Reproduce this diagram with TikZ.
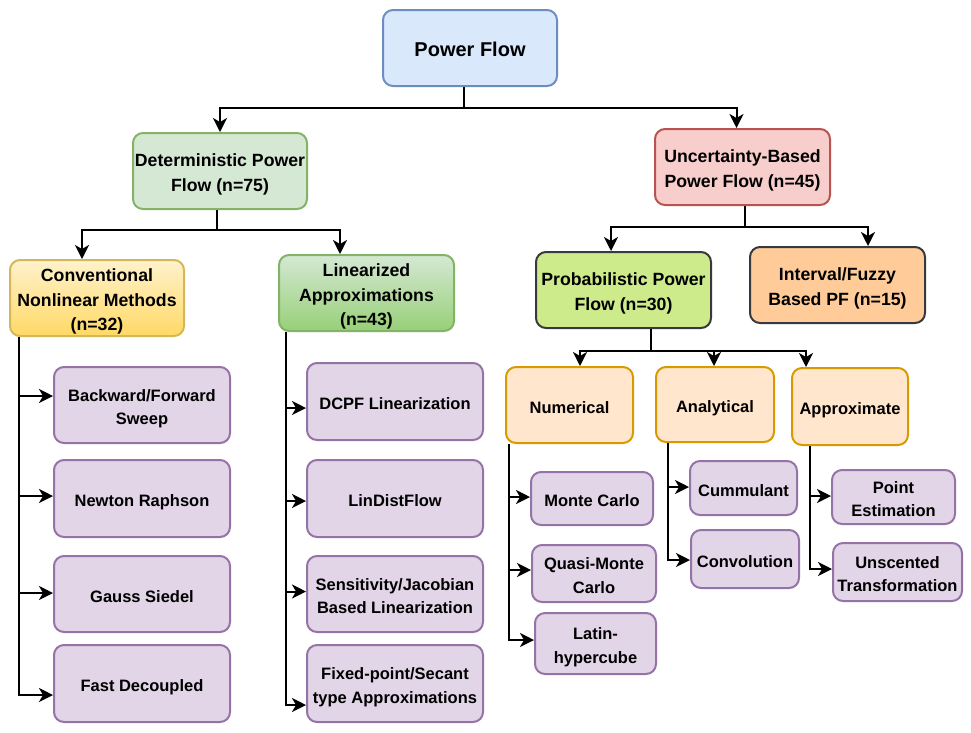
\documentclass[tikz,border=0pt]{standalone}
\usepackage{fontspec}
\setmainfont{Liberation Sans}
\usetikzlibrary{arrows.meta}
\definecolor{pfF}{HTML}{DAE8FC}\definecolor{pfD}{HTML}{6C8EBF}
\definecolor{detF}{HTML}{D5E8D4}\definecolor{detD}{HTML}{82B366}
\definecolor{uncF}{HTML}{F8CECC}\definecolor{uncD}{HTML}{B85450}
\definecolor{convT}{HTML}{FFF2CC}\definecolor{convB}{HTML}{FFD966}\definecolor{convD}{HTML}{D6B656}
\definecolor{linB}{HTML}{97D077}
\definecolor{probF}{HTML}{CDEB8B}\definecolor{darkD}{HTML}{36393D}
\definecolor{intF}{HTML}{FFCC99}
\definecolor{subF}{HTML}{FFE6CC}\definecolor{subD}{HTML}{D79B00}
\definecolor{leafF}{HTML}{E1D5E7}\definecolor{leafD}{HTML}{9673A6}
\newcommand\mytop{\rule{0pt}{20pt}}
\tikzset{
  base/.style={rounded corners=10pt, line width=2pt, align=center, inner sep=0pt, text=black,
    execute at end node={\rule[-4pt]{0pt}{4pt}}},
  catbox/.style={base, font=\bfseries\fontsize{17.7}{24.8}\selectfont, minimum width=174pt, minimum height=76pt},
  leafbox/.style={base, fill=leafF, draw=leafD, font=\bfseries\fontsize{16.5}{23.1}\selectfont},
  subbox/.style={base, fill=subF, draw=subD, font=\bfseries\fontsize{16.5}{23.1}\selectfont},
  arr/.style={line width=2pt, -{Stealth[length=14pt,width=14pt,inset=4pt]}},
}
\begin{document}
\begin{tikzpicture}[x=1pt,y=-1pt]
\useasboundingbox (0,0) rectangle (971,732);
% level 0
\node[base, fill=pfF, draw=pfD, minimum width=174pt, minimum height=76pt, font=\bfseries\fontsize{20}{24}\selectfont] (pf) at (470,48) {\mytop Power Flow};
% level 1
\node[catbox, fill=detF, draw=detD] (det) at (220,171) {\mytop Deterministic Power\\Flow (n=75)};
\node[catbox, fill=uncF, draw=uncD, minimum width=175pt] (unc) at (742.5,167) {\mytop Uncertainty-Based\\Power Flow (n=45)};
% level 2
\node[catbox, top color=convT, bottom color=convB, draw=convD] (conv) at (97,298) {\mytop Conventional\\Nonlinear Methods\\(n=32)};
\node[catbox, top color=detF, bottom color=linB, draw=detD, minimum width=175pt] (lin) at (366.5,293) {\mytop Linearized\\Approximations\\(n=43)};
\node[catbox, fill=probF, draw=darkD, minimum width=175pt] (prob) at (623.5,290) {\mytop Probabilistic Power\\Flow (n=30)};
\node[catbox, fill=intF, draw=darkD, minimum width=175pt] (intv) at (837.5,285) {\mytop Interval/Fuzzy\\Based PF (n=15)};
% level 3 (probabilistic)
\node[subbox, minimum width=127pt, minimum height=76pt] (num) at (569.5,405) {\mytop Numerical};
\node[subbox, minimum width=118pt, minimum height=75pt] (ana) at (715,404.5) {\mytop Analytical};
\node[subbox, minimum width=116pt, minimum height=77pt] (apx) at (850,406.5) {\mytop Approximate};
% leaves: conventional
\node[leafbox, minimum width=176pt, minimum height=76pt] (bf) at (142,405) {\mytop Backward/Forward\\Sweep};
\node[leafbox, minimum width=176pt, minimum height=77pt] (nr) at (142,498.5) {\mytop Newton Raphson};
\node[leafbox, minimum width=176pt, minimum height=76pt] (gs) at (142,594) {\mytop Gauss Siedel};
\node[leafbox, minimum width=176pt, minimum height=77pt] (fd) at (142,683.5) {\mytop Fast Decoupled};
% leaves: linearized
\node[leafbox, minimum width=176pt, minimum height=77pt] (dc) at (395,401.5) {\mytop DCPF Linearization};
\node[leafbox, minimum width=176pt, minimum height=77pt] (ld) at (395,498.5) {\mytop LinDistFlow};
\node[leafbox, minimum width=176pt, minimum height=76pt] (sj) at (395,594) {\mytop Sensitivity/Jacobian\\Based Linearization};
\node[leafbox, minimum width=176pt, minimum height=77pt] (fp) at (395,683.5) {\mytop Fixed-point/Secant\\type Approximations};
% leaves: numerical
\node[leafbox, minimum width=122pt, minimum height=53pt] (mc) at (592,498.5) {\mytop Monte Carlo};
\node[leafbox, minimum width=124pt, minimum height=57pt] (qmc) at (594,573.5) {\mytop Quasi-Monte\\Carlo};
\node[leafbox, minimum width=121pt, minimum height=61pt] (lh) at (595.5,643.5) {\mytop Latin-\\hypercube};
% leaves: analytical
\node[leafbox, minimum width=107pt, minimum height=54pt] (cum) at (743.5,488) {\mytop Cummulant};
\node[leafbox, minimum width=108pt, minimum height=58pt] (cvl) at (745,559) {\mytop Convolution};
% leaves: approximate
\node[leafbox, minimum width=123pt, minimum height=54pt] (pe) at (893.5,497) {\mytop Point\\Estimation};
\node[leafbox, minimum width=129pt, minimum height=58pt] (ut) at (897.5,572) {\mytop Unscented\\Transformation};
% connectors
\draw[arr] ([xshift=-6pt]pf.south) -- ++(0,21) -| (det.north);
\draw[arr] ([xshift=-6pt]pf.south) -- ++(0,21) -| ([xshift=-6pt]unc.north);
\draw[arr] ([xshift=-3pt]det.south) -- ++(0,20) -| ([xshift=-15pt]conv.north);
\draw[arr] ([xshift=-3pt]det.south) -- ++(0,20) -| ([xshift=-26.5pt]lin.north);
\draw[arr] ([xshift=2.5pt]unc.south) -- ++(0,21) -| ([xshift=-12.5pt]prob.north);
\draw[arr] ([xshift=2.5pt]unc.south) -- ++(0,21) -| ([xshift=30.5pt]intv.north);
\draw[arr] ([xshift=27.5pt]prob.south) -- ++(0,22) -| ([xshift=10.5pt]num.north);
\draw[arr] ([xshift=27.5pt]prob.south) -- ++(0,22) -| ([xshift=-1pt]ana.north);
\draw[arr] ([xshift=27.5pt]prob.south) -- ++(0,22) -| ([xshift=-44pt]apx.north);
% trunks
\draw[arr] ([xshift=10pt]conv.south west) |- ([yshift=9pt]bf.west);
\draw[arr] ([xshift=10pt]conv.south west) |- ([yshift=2.5pt]nr.west);
\draw[arr] ([xshift=10pt]conv.south west) |- ([yshift=1pt]gs.west);
\draw[arr] ([xshift=10pt]conv.south west) |- ([yshift=-11.5pt]fd.west);
\draw[arr] ([xshift=8pt]lin.south west) |- ([yshift=-6.5pt]dc.west);
\draw[arr] ([xshift=8pt]lin.south west) |- ([yshift=-2.5pt]ld.west);
\draw[arr] ([xshift=8pt]lin.south west) |- ([yshift=2.5pt]sj.west);
\draw[arr] ([xshift=8pt]lin.south west) |- ([yshift=-21.5pt]fp.west);
\draw[arr] ([xshift=4pt]num.south west) |- ([yshift=1.5pt]mc.west);
\draw[arr] ([xshift=4pt]num.south west) |- ([yshift=3.5pt]qmc.west);
\draw[arr] ([xshift=4pt]num.south west) |- ([yshift=3.5pt]lh.west);
\draw[arr] ([xshift=13pt]ana.south west) |- ([yshift=1pt]cum.west);
\draw[arr] ([xshift=13pt]ana.south west) |- ([yshift=-1pt]cvl.west);
\draw[arr] ([xshift=19pt]apx.south west) |- ([yshift=1pt]pe.west);
\draw[arr] ([xshift=19pt]apx.south west) |- ([yshift=3pt]ut.west);
\end{tikzpicture}
\end{document}
